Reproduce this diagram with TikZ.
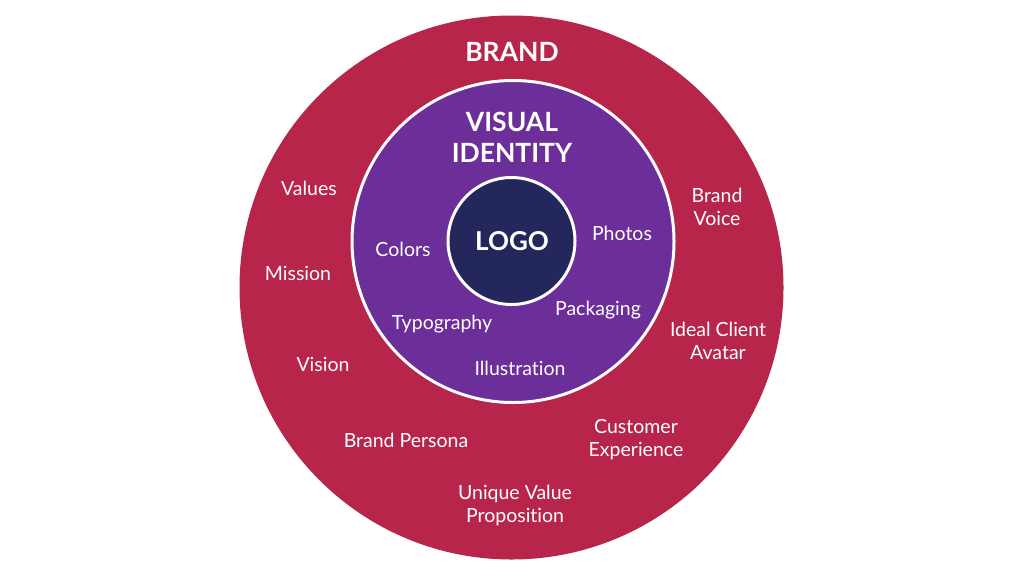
\documentclass[tikz,border=0pt]{standalone}
\usepackage{fontspec}
\setmainfont{Lato}[Ligatures=NoCommon]
\definecolor{brandred}{HTML}{B8254A}
\definecolor{visualpurple}{HTML}{6C2E98}
\definecolor{logonavy}{HTML}{24275C}
\tikzset{
  ring/.style={circle, inner sep=0pt},
  title/.style={text=white, font=\bfseries\fontsize{26.5}{31}\selectfont, align=center},
  lbl/.style={text=white, font=\fontsize{19.5}{23}\selectfont, align=center, inner sep=0pt}
}
\begin{document}
\begin{tikzpicture}[x=1pt,y=-1pt]
\useasboundingbox (0,0) rectangle (1024,576);
\fill[white] (0,0) rectangle (1024,576);
\node[ring, fill=brandred, minimum size=544pt] (brand) at (511.5,287.5) {};
\node[ring, fill=visualpurple, draw=white, line width=3pt, minimum size=322pt] (visual) at (513,241.5) {};
\node[ring, fill=logonavy, draw=white, line width=3pt, minimum size=127pt] (logo) at (511.5,241) {};
\node[title] (tbrand) at (512,52) {BRAND};
\node[title] (tvisual) at (512,137) {VISUAL\\IDENTITY};
\node[title, font=\bfseries\fontsize{26}{31}\selectfont] (tlogo) at (512,241) {LOGO};
% visual identity items
\node[lbl] (colors) at (403,249) {Colors};
\node[lbl] (photos) at (622,233) {Photos};
\node[lbl] (packaging) at (598,310) {Packaging};
\node[lbl] (typography) at (442,324) {Typography};
\node[lbl] (illustration) at (520,368) {Illustration};
% brand items
\node[lbl] (values) at (309,188) {Values};
\node[lbl] (mission) at (298,273) {Mission};
\node[lbl] (vision) at (323,364) {Vision};
\node[lbl] (persona) at (406,440) {Brand Persona};
\node[lbl] (uvp) at (515,505) {Unique Value\\Proposition};
\node[lbl] (cx) at (636,440) {Customer\\Experience};
\node[lbl] (avatar) at (718,341) {Ideal Client\\Avatar};
\node[lbl] (voice) at (717,207) {Brand\\Voice};
\end{tikzpicture}
\end{document}
